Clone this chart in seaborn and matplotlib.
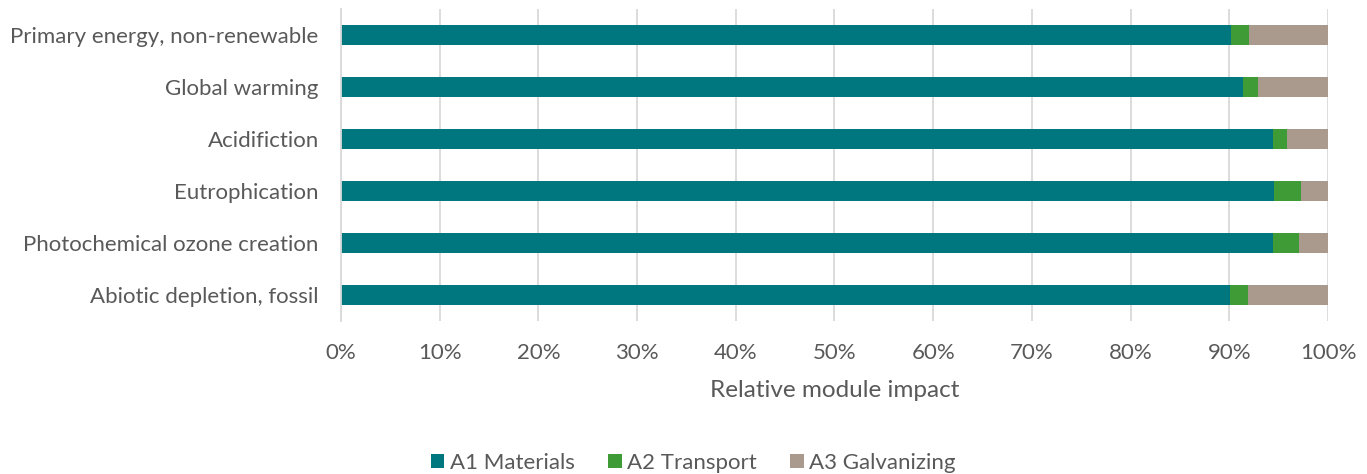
import numpy as np
import pandas as pd
import matplotlib
matplotlib.use("Agg")
import matplotlib.pyplot as plt
import seaborn as sns
from matplotlib.ticker import PercentFormatter

categories = [
    "Primary energy, non-renewable",
    "Global warming",
    "Acidifiction",
    "Eutrophication",
    "Photochemical ozone creation",
    "Abiotic depletion, fossil",
]
a1_materials = [90.2, 91.4, 94.4, 94.5, 94.4, 90.1]
a2_transport = [1.8, 1.5, 1.4, 2.8, 2.7, 1.8]
a3_galvanizing = [8.0, 7.1, 4.2, 2.7, 2.9, 8.1]

series_names = ["A1 Materials", "A2 Transport", "A3 Galvanizing"]
colors = ["#00777F", "#3E9B36", "#AA9A8D"]
text_color = "#595959"

df = pd.DataFrame({
    "Category": categories,
    "A1": a1_materials,
    "A2": a2_transport,
    "A3": a3_galvanizing,
})
df["c1"] = df["A1"]
df["c2"] = df["A1"] + df["A2"]
df["c3"] = df["c2"] + df["A3"]

sns.set_theme(style="white")
plt.rcParams["font.family"] = ["Lato", "DejaVu Sans"]

fig = plt.figure(figsize=(13.67, 4.74), dpi=100)
ax = fig.add_axes([0.2494, 0.323, 0.7221, 0.658])

# stacked: draw cumulative totals from largest to smallest
for col, color, name in zip(["c3", "c2", "c1"], colors[::-1], series_names[::-1]):
    sns.barplot(data=df, x=col, y="Category", order=categories, color=color,
                orient="h", width=0.4, ax=ax, label=name, saturation=1,
                linewidth=0, zorder=3)

ax.set_xlim(0, 100)
ax.set_ylim(5.5, -0.5)
ax.set_xticks(np.arange(0, 101, 10))
ax.xaxis.set_major_formatter(PercentFormatter(decimals=0))
ax.grid(axis="x", color="#D9D9D9", linewidth=1.3, zorder=0)
ax.grid(axis="y", visible=False)
for s in ["top", "right", "bottom"]:
    ax.spines[s].set_visible(False)
ax.spines["left"].set_color("#D9D9D9")
ax.spines["left"].set_linewidth(1.3)
ax.spines["left"].set_zorder(4)

ax.tick_params(axis="both", length=0, labelsize=16, labelcolor=text_color)
ax.tick_params(axis="x", pad=16)
ax.tick_params(axis="y", pad=16)
ax.set_ylabel("")
ax.set_xlabel("Relative module impact", fontsize=17.5, color=text_color, labelpad=12)

handles, labels = ax.get_legend_handles_labels()
order = [labels.index(n) for n in series_names]
ax.legend([handles[i] for i in order], series_names, loc="center",
          bbox_to_anchor=(0.357, -0.455), ncol=3, frameon=False,
          fontsize=16, labelcolor=text_color, handlelength=0.6,
          handleheight=0.6, handletextpad=0.25, columnspacing=1.5)

fig.savefig("out.png", dpi=100)
